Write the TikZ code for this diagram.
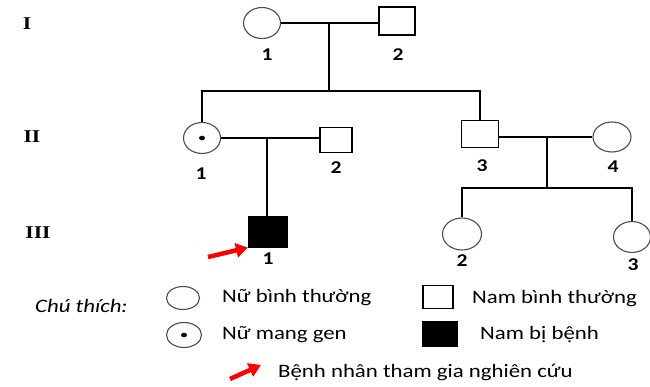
\documentclass[tikz,border=0pt]{standalone}
\usepackage{fontspec}
\newfontfamily\calibri[FakeStretch=1.2]{Carlito}
\newfontfamily\romanb[FakeStretch=1.2]{Liberation Serif}
\usetikzlibrary{shapes.geometric,arrows.meta}
\tikzset{
  female/.style={ellipse,draw=black!70,line width=1.1pt,minimum width=37pt,minimum height=31pt,inner sep=0pt},
  male/.style={rectangle,draw,line width=1.1pt,minimum width=36pt,minimum height=28pt,inner sep=0pt},
  sick/.style={male,fill=black},
  num/.style={font=\calibri\bfseries\fontsize{18}{20}\selectfont,inner sep=0pt},
  gen/.style={font=\romanb\bfseries\fontsize{18}{20}\selectfont,inner sep=0pt},
  legend/.style={font=\calibri\fontsize{19}{22}\selectfont,inner sep=0pt,anchor=west},
  link/.style={line width=1.1pt},
  proband/.style={red,line width=4.5pt,-{Triangle[length=12pt,width=14pt]}}
}
\begin{document}
\begin{tikzpicture}[x=1pt,y=-1pt]
  \useasboundingbox (0,0) rectangle (650,386);
  % generation labels
  \node[gen] (gI) at (27,24) {I};
  \node[gen] (gII) at (32,137) {II};
  \node[gen] (gIII) at (38,233) {III};

  % generation I
  \node[female] (i1) at (262,23) {};
  \node[male] (i2) at (397,21) {};
  \node[num] (ni1) at (267,55) {1};
  \node[num] (ni2) at (398,55) {2};
  \draw[link] (i1.east) -- (i1.east -| i2.west);
  \coordinate (ci) at (329,23);
  \coordinate (si) at (329,91);
  \draw[link] (ci) -- (si);

  % generation II
  \node[female] (ii1) at (202,138) {};
  \fill (ii1.center) ellipse[x radius=3pt,y radius=2.3pt];
  \node[male,minimum width=32pt,minimum height=25pt] (ii2) at (336,140) {};
  \node[male,minimum width=37pt,minimum height=27pt] (ii3) at (480,134) {};
  \node[female,minimum width=38pt,minimum height=30pt] (ii4) at (612,137) {};
  \node[num] (nii1) at (201,174) {1};
  \node[num] (nii2) at (336,168) {2};
  \node[num] (nii3) at (482,166) {3};
  \node[num] (nii4) at (613,167) {4};
  \draw[link] (ii1.north) -- (ii1.north |- si) -- (ii3.north |- si) -- (ii3.north);
  \draw[link] (ii1.east) -- (ii1.east -| ii2.west);
  \draw[link] (ii3.east |- ii4.west) -- (ii4.west);
  \coordinate (cii) at (267,138);
  \coordinate (dii) at (547,137);
  \coordinate (sii) at (547,188);
  \draw[link] (dii) -- (sii);

  % generation III
  \node[sick,minimum width=39pt,minimum height=30pt] (iii1) at (268,232) {};
  \node[female,minimum width=39pt,minimum height=32pt] (iii2) at (462,234) {};
  \node[female] (iii3) at (632,237) {};
  \node[num] (niii1) at (268,259) {1};
  \node[num] (niii2) at (462,261) {2};
  \node[num] (niii3) at (633,265) {3};
  \draw[link] (cii) -- (cii |- iii1.north);
  \draw[link] (iii2.north) -- (iii2.north |- sii) -- (iii3.north |- sii) -- (iii3.north);
  \coordinate (pi) at (208,257);
  \draw[proband] (pi) -- (iii1.south west);

  % key
  \node[font=\calibri\itshape\fontsize{19}{22}\selectfont,inner sep=0pt,anchor=west] (key) at (35,306) {Chú thích:};
  \node[female,minimum width=33pt,minimum height=23pt] (kf) at (183,298) {};
  \node[legend] (tkf) at (222,298) {Nữ bình thường};
  \node[male,minimum width=30pt,minimum height=23pt] (km) at (438,297) {};
  \node[legend] (tkm) at (472,299) {Nam bình thường};
  \node[female,minimum width=35pt,minimum height=25pt] (kc) at (184,335) {};
  \fill (kc.center) ellipse[x radius=3pt,y radius=2.3pt];
  \node[legend] (tkc) at (222,335) {Nữ mang gen};
  \node[sick,minimum width=34pt,minimum height=25pt] (ks) at (440,334) {};
  \node[legend] (tks) at (480,335) {Nam bị bệnh};
  \coordinate (ka) at (230,379);
  \coordinate (kb) at (261,365);
  \draw[proband] (ka) -- (kb);
  \node[legend] (tkp) at (278,372) {Bệnh nhân tham gia nghiên cứu};
\end{tikzpicture}
\end{document}
